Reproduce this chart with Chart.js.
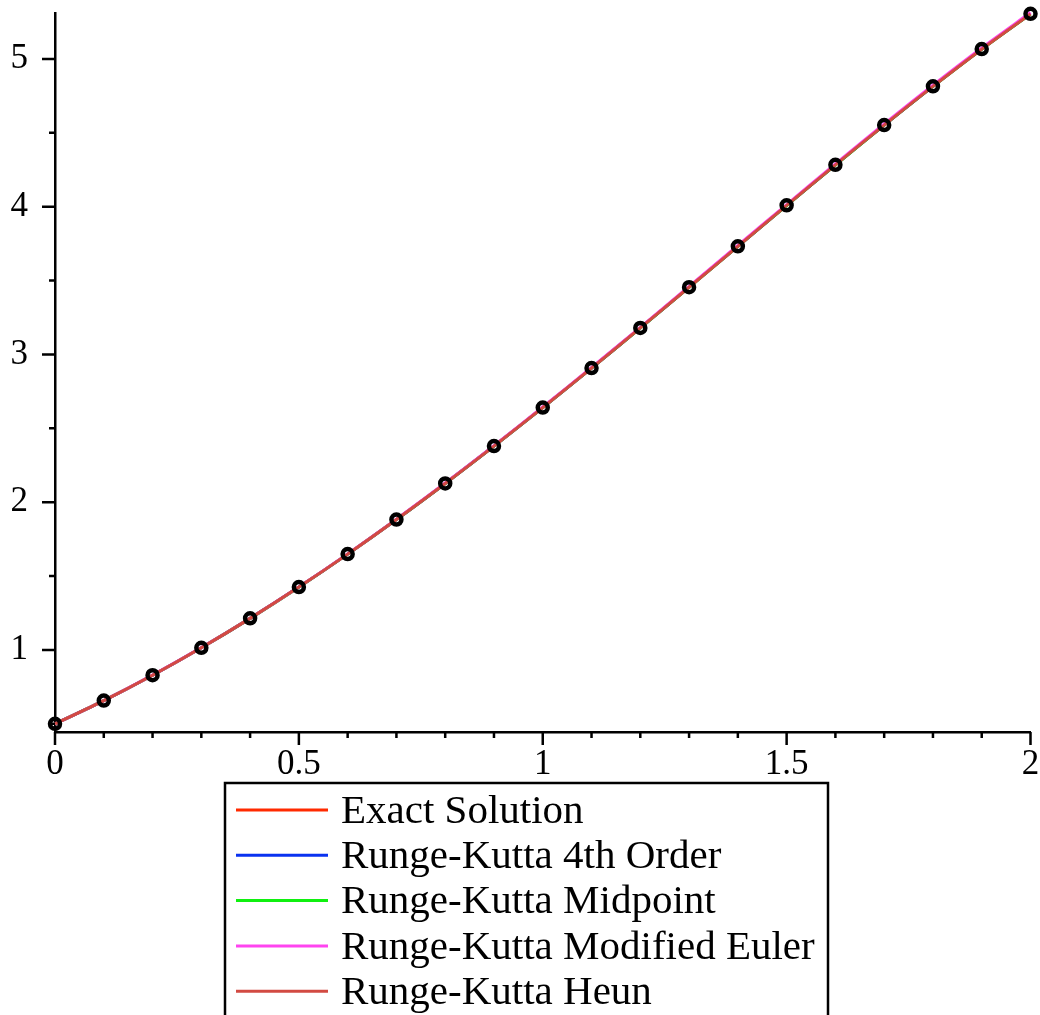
<!DOCTYPE html>
<html>
<head>
<meta charset="utf-8">
<script src="https://cdn.jsdelivr.net/npm/chart.js@4/dist/chart.umd.min.js"></script>
<style>
  html, body { margin: 0; padding: 0; background: #fff; }
  canvas { display: block; }
</style>
</head>
<body>
<canvas id="chart" width="1040" height="1015"></canvas>
<script>
// data (t step 0.1)
const tValues = [0, 0.1, 0.2, 0.3, 0.4, 0.5, 0.6, 0.7, 0.8, 0.9, 1, 1.1, 1.2, 1.3, 1.4, 1.5, 1.6, 1.7, 1.8, 1.9, 2];
const exactValues = [0.5000, 0.6574, 0.8293, 1.0151, 1.2141, 1.4256, 1.6489, 1.8831, 2.1272, 2.3802, 2.6409, 2.9079, 3.1799, 3.4554, 3.7324, 4.0092, 4.2835, 4.5530, 4.8152, 5.0671, 5.3055];
const rk4Values = [0.5000, 0.6574, 0.8293, 1.0151, 1.2141, 1.4256, 1.6489, 1.8831, 2.1272, 2.3802, 2.6409, 2.9079, 3.1799, 3.4554, 3.7324, 4.0092, 4.2835, 4.5530, 4.8152, 5.0671, 5.3055];
const midpointValues = [0.5000, 0.6574, 0.8292, 1.0150, 1.2140, 1.4254, 1.6487, 1.8828, 2.1269, 2.3798, 2.6404, 2.9074, 3.1793, 3.4547, 3.7316, 4.0083, 4.2825, 4.5519, 4.8140, 5.0658, 5.3040];
const modEulerValues = [0.5000, 0.6576, 0.8298, 1.0159, 1.2152, 1.4270, 1.6506, 1.8852, 2.1297, 2.3831, 2.6442, 2.9116, 3.1840, 3.4600, 3.7375, 4.0148, 4.2896, 4.5597, 4.8225, 5.0750, 5.3140];
const heunValues = [0.5000, 0.6574, 0.8292, 1.0150, 1.2140, 1.4255, 1.6487, 1.8829, 2.1270, 2.3799, 2.6406, 2.9075, 3.1795, 3.4549, 3.7319, 4.0086, 4.2828, 4.5522, 4.8143, 5.0661, 5.3044];
const pointValues = [0.5000, 0.6574, 0.8293, 1.0151, 1.2141, 1.4256, 1.6489, 1.8831, 2.1272, 2.3802, 2.6409, 2.9079, 3.1799, 3.4554, 3.7324, 4.0092, 4.2835, 4.5530, 4.8152, 5.0671, 5.3055];

const seriesNames = ['Exact Solution', 'Runge-Kutta 4th Order', 'Runge-Kutta Midpoint', 'Runge-Kutta Modified Euler', 'Runge-Kutta Heun'];
const seriesColors = ['#ff2a00', '#0a32f0', '#10f010', '#ff44f0', '#d24a42'];

const xTickLabels = [0, 0.5, 1, 1.5, 2];
const yTickLabels = [1, 2, 3, 4, 5];
const yMinorTicks = [0.5, 1.5, 2.5, 3.5, 4.5];

const FONT = '"Liberation Serif", "Times New Roman", serif';

function pts(ys){ return tValues.map((t, i) => ({x: t, y: ys[i]})); }

const seriesData = [exactValues, rk4Values, midpointValues, modEulerValues, heunValues];
const datasets = seriesData.map((ys, i) => ({
  label: seriesNames[i],
  data: pts(ys),
  borderColor: seriesColors[i],
  borderWidth: 3,
  pointRadius: 0,
  tension: 0.3,
  order: 10 - i,
  clip: false
}));
datasets.push({
  label: 'points',
  data: pts(pointValues),
  showLine: false,
  pointStyle: 'circle',
  pointRadius: 5,
  pointBorderWidth: 4.5,
  pointBorderColor: '#000',
  pointBackgroundColor: 'rgba(0,0,0,0)',
  order: 0,
  clip: false
});

// tick marks: long at labelled values, short in between
const tickMarks = {
  id: 'tickMarks',
  afterDraw(chart){
    const {ctx, scales: {x, y}, chartArea: a} = chart;
    ctx.save();
    ctx.strokeStyle = '#000';
    ctx.lineWidth = 2.5;
    ctx.beginPath();
    tValues.forEach(v => {
      const px = x.getPixelForValue(v);
      const len = xTickLabels.includes(v) ? 13 : 6;
      ctx.moveTo(px, a.bottom); ctx.lineTo(px, a.bottom + len);
    });
    yTickLabels.forEach(v => {
      const py = y.getPixelForValue(v);
      ctx.moveTo(a.left, py); ctx.lineTo(a.left - 13, py);
    });
    yMinorTicks.forEach(v => {
      const py = y.getPixelForValue(v);
      ctx.moveTo(a.left, py); ctx.lineTo(a.left - 6, py);
    });
    ctx.stroke();
    ctx.restore();
  }
};

// boxed legend under the plot, one entry per row
const boxLegend = {
  id: 'boxLegend',
  afterDraw(chart){
    const ctx = chart.ctx;
    const left = 225, top = 783, right = 828, rowH = 45.3, firstRow = 810;
    ctx.save();
    ctx.strokeStyle = '#000';
    ctx.lineWidth = 2.5;
    ctx.strokeRect(left, top, right - left, 260);
    ctx.font = '41px ' + FONT;
    ctx.textBaseline = 'middle';
    ctx.fillStyle = '#000';
    chart.data.datasets.slice(0, seriesNames.length).forEach((ds, i) => {
      const yy = firstRow + i * rowH;
      ctx.strokeStyle = ds.borderColor;
      ctx.lineWidth = 3;
      ctx.beginPath();
      ctx.moveTo(236, yy); ctx.lineTo(328, yy);
      ctx.stroke();
      ctx.fillText(ds.label, 341, yy + 2);
    });
    ctx.restore();
  }
};

new Chart(document.getElementById('chart'), {
  type: 'line',
  data: { datasets },
  options: {
    responsive: false,
    animation: false,
    devicePixelRatio: 1,
    layout: { padding: { top: 13, right: 7, bottom: 233, left: 0 } },
    plugins: { legend: { display: false }, tooltip: { enabled: false } },
    scales: {
      x: {
        type: 'linear', min: 0, max: 2,
        afterBuildTicks: s => { s.ticks = xTickLabels.map(v => ({value: v})); },
        afterFit: s => { s.height = 50; s.paddingLeft = 0; s.paddingRight = 0; },
        ticks: { color: '#000', font: { family: FONT, size: 35 }, padding: 12, maxRotation: 0, autoSkip: false, callback: v => String(v) },
        grid: { drawOnChartArea: false, drawTicks: false },
        border: { color: '#000', width: 2.5 }
      },
      y: {
        type: 'linear', min: 0.445, max: 5.311,
        afterBuildTicks: s => { s.ticks = yTickLabels.map(v => ({value: v})); },
        afterFit: s => { s.width = 55; s.paddingTop = 0; s.paddingBottom = 0; },
        ticks: { color: '#000', font: { family: FONT, size: 35 }, padding: 27, autoSkip: false, callback: v => String(v) },
        grid: { drawOnChartArea: false, drawTicks: false },
        border: { color: '#000', width: 2.5 }
      }
    }
  },
  plugins: [tickMarks, boxLegend]
});
</script>
</body>
</html>
